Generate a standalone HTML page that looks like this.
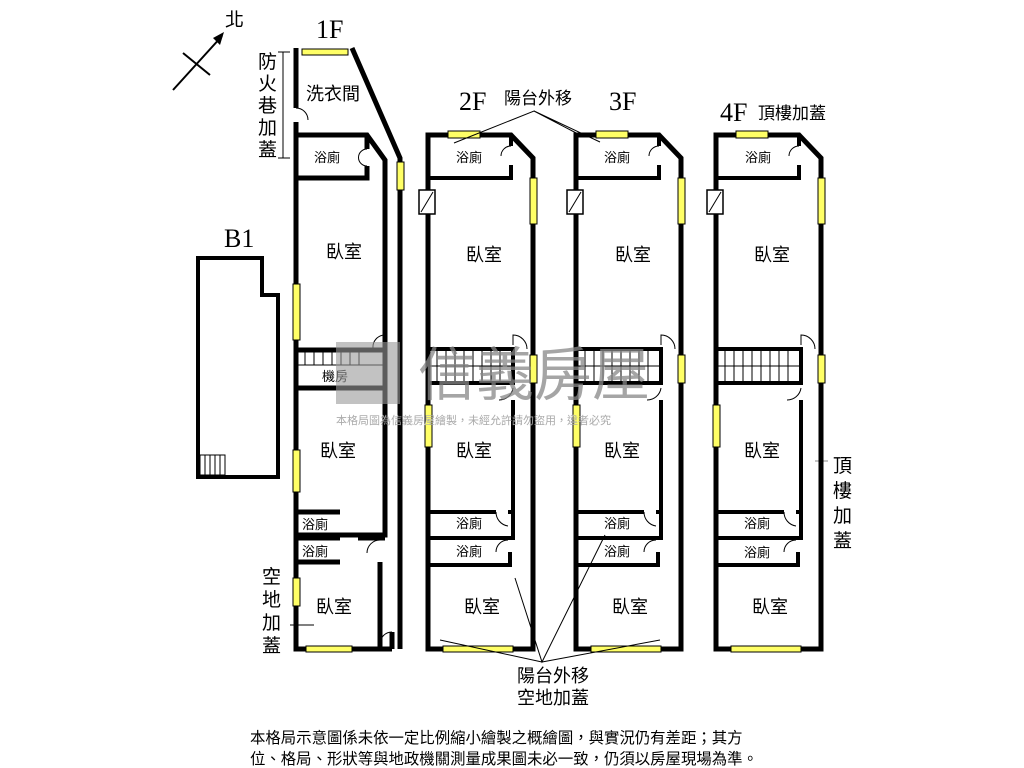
<!DOCTYPE html>
<html><head><meta charset="utf-8"><style>
body{margin:0;background:#fff;width:1024px;height:768px;overflow:hidden}
svg{display:block}
text{font-family:"Liberation Sans","Noto Sans CJK TC",sans-serif;fill:#000}
.s{font-family:"Liberation Serif",serif}
</style></head><body>
<svg width="1024" height="768" viewBox="0 0 1024 768">
<defs>
<g id="fl">
<path d="M0 135 H83 L105 158 V649 H0 Z" fill="none" stroke="#000" stroke-width="5"/>
<path d="M0 178 H83 V165 M83 135 V146" fill="none" stroke="#000" stroke-width="4"/>
<path d="M83 146 A10 10 0 0 0 73 156" fill="none" stroke="#000" stroke-width="1"/>
<rect x="-9" y="190" width="16" height="24" fill="#fff" stroke="#000" stroke-width="1.5"/>
<line x1="-7" y1="212" x2="5" y2="192" stroke="#000" stroke-width="1"/>
<rect x="0" y="349" width="85" height="34" fill="none" stroke="#000" stroke-width="4"/>
<g stroke="#000" stroke-width="1">
<line x1="9" y1="349" x2="9" y2="383"/><line x1="18" y1="349" x2="18" y2="383"/><line x1="27" y1="349" x2="27" y2="383"/><line x1="36" y1="349" x2="36" y2="383"/><line x1="45" y1="349" x2="45" y2="383"/><line x1="54" y1="349" x2="54" y2="383"/><line x1="63" y1="349" x2="63" y2="383"/><line x1="72" y1="349" x2="72" y2="383"/><line x1="0" y1="366" x2="85" y2="366"/>
</g>
<path d="M85 400 V540 M0 512 H68 M80 512 H85 M0 538 H85 M0 565 H82 V552" fill="none" stroke="#000" stroke-width="4"/>
<path d="M85 345 V335 A14 14 0 0 1 99 349 M85 388 A14 14 0 0 1 71 400 M68 512 A14 14 0 0 0 80 526 M80 540 A12 12 0 0 0 68 552" fill="none" stroke="#000" stroke-width="1"/>
<g fill="#ffff66" stroke="#000" stroke-width="1">
<rect x="20" y="131" width="32" height="7"/><rect x="102" y="178" width="7" height="46"/><rect x="102" y="355" width="7" height="28"/><rect x="-3" y="405" width="7" height="42"/><rect x="15" y="646" width="70" height="6"/>
</g>
</g>
</defs>

<line x1="173" y1="90" x2="222" y2="36" stroke="#000" stroke-width="2"/>
<polygon points="224,32 213,38 220,45" fill="#000"/>
<line x1="183" y1="53" x2="210" y2="75" stroke="#000" stroke-width="2"/>
<text x="225" y="26" font-size="19">北</text>
<text x="316" y="38" font-size="26" class="s">1F</text>
<text x="224" y="247" font-size="26" class="s">B1</text>
<text x="459" y="110" font-size="26" class="s">2F</text>
<text x="609" y="110" font-size="26" class="s">3F</text>
<text x="720" y="121" font-size="26" class="s">4F</text>
<text x="504" y="104" font-size="17">陽台外移</text>
<text x="758" y="119" font-size="17">頂樓加蓋</text>

<path d="M198 258 H262 V295 H278 V477 H198 Z" fill="none" stroke="#000" stroke-width="4"/>
<g stroke="#000" stroke-width="1"><rect x="200" y="455" width="25" height="20" fill="none"/><line x1="205" y1="455" x2="205" y2="475"/><line x1="210" y1="455" x2="210" y2="475"/><line x1="215" y1="455" x2="215" y2="475"/><line x1="220" y1="455" x2="220" y2="475"/></g>

<g fill="none" stroke="#000" stroke-width="5">
<path d="M296 108 V48 M296 122 V649 H392 M352 48 L400 158 V649"/>
<path d="M296 135 H367 L385 160 V535 H296 M367 135 V149 M367 166 V178 H296"/>
<path d="M296 350 H385 M296 388 H385 M296 512 H340 M296 538 H340 M296 562 H340 M358 538 H385 M380 562 V649 M392 632 V649"/>
</g>
<path d="M296 108 A12 12 0 0 1 308 120 M367 149 A8 8 0 0 0 367 166 M385 335 A12 12 0 0 0 373 348 M380 540 A13 13 0 0 0 367 553 M392 632 A12 12 0 0 0 380 644" fill="none" stroke="#000" stroke-width="1"/>
<g stroke="#000" stroke-width="1"><line x1="305" y1="350" x2="305" y2="365"/><line x1="314" y1="350" x2="314" y2="365"/><line x1="323" y1="350" x2="323" y2="365"/><line x1="332" y1="350" x2="332" y2="365"/><line x1="341" y1="350" x2="341" y2="365"/><line x1="350" y1="350" x2="350" y2="365"/><line x1="359" y1="350" x2="359" y2="365"/><line x1="296" y1="365" x2="385" y2="365"/></g>
<g fill="#ffff66" stroke="#000" stroke-width="1">
<rect x="302" y="49" width="46" height="6"/><rect x="397" y="162" width="7" height="28"/><rect x="293" y="284" width="7" height="56"/><rect x="293" y="450" width="7" height="42"/><rect x="293" y="578" width="7" height="28"/><rect x="306" y="646" width="46" height="6"/>
</g>
<line x1="283" y1="52" x2="283" y2="158" stroke="#000" stroke-width="1"/>
<line x1="278" y1="52" x2="290" y2="52" stroke="#000"/><line x1="278" y1="158" x2="290" y2="158" stroke="#000"/>
<g font-size="19"><text x="258" y="68">防</text><text x="258" y="90">火</text><text x="258" y="112">巷</text><text x="258" y="134">加</text><text x="258" y="156">蓋</text>
<text x="262" y="583">空</text><text x="262" y="606">地</text><text x="262" y="629">加</text><text x="262" y="652">蓋</text>
<text x="833" y="472">頂</text><text x="833" y="497">樓</text><text x="833" y="522">加</text><text x="833" y="547">蓋</text></g>
<line x1="290" y1="625" x2="314" y2="625" stroke="#000" stroke-width="1"/>
<line x1="815" y1="461" x2="828" y2="461" stroke="#888" stroke-width="1"/>

<use href="#fl" x="428"/><use href="#fl" x="576"/><use href="#fl" x="716"/>

<g stroke="#000" stroke-width="1" fill="none">
<path d="M454 143 L534 111 L580 135 M534 111 L600 142"/>
<path d="M515 578 L542 662 L605 535 M542 662 L440 640 M542 662 L660 640"/>
</g>

<g font-size="13"><text x="314" y="162">浴廁</text><text x="456" y="162">浴廁</text><text x="604" y="162">浴廁</text><text x="745" y="162">浴廁</text>
<text x="302" y="529">浴廁</text><text x="302" y="556">浴廁</text>
<text x="456" y="528">浴廁</text><text x="456" y="556">浴廁</text><text x="604" y="528">浴廁</text><text x="604" y="556">浴廁</text><text x="744" y="528">浴廁</text><text x="744" y="557">浴廁</text>
<text x="322" y="381">機房</text></g>
<g font-size="18"><text x="306" y="100">洗衣間</text><text x="326" y="258">臥室</text><text x="466" y="261">臥室</text><text x="615" y="261">臥室</text><text x="754" y="261">臥室</text>
<text x="320" y="457">臥室</text><text x="456" y="457">臥室</text><text x="604" y="457">臥室</text><text x="744" y="457">臥室</text>
<text x="316" y="613">臥室</text><text x="464" y="613">臥室</text><text x="612" y="613">臥室</text><text x="752" y="613">臥室</text>
<text x="517" y="682">陽台外移</text><text x="517" y="704">空地加蓋</text></g>

<rect x="336" y="342" width="64" height="62" fill="#999" opacity="0.6"/>
<text x="418" y="395" font-size="58" opacity="0.75" style="fill:#888">信義房屋</text>
<text x="336" y="424" font-size="11" style="fill:#aaa">本格局圖為信義房屋繪製，未經允許請勿盜用，違者必究</text>

<g font-size="15.4"><text x="250" y="743">本格局示意圖係未依一定比例縮小繪製之概繪圖，與實況仍有差距；其方</text>
<text x="250" y="764">位、格局、形狀等與地政機關測量成果圖未必一致，仍須以房屋現場為準。</text></g>
</svg>
</body></html>
